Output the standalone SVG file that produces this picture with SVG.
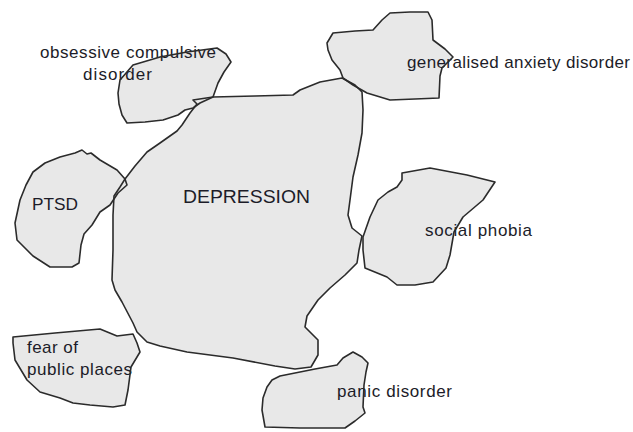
<svg xmlns="http://www.w3.org/2000/svg" xmlns:xlink="http://www.w3.org/1999/xlink" width="633" height="432" viewBox="0 0 633 432">
<style>
.fill{fill:#e8e8e8;stroke:none}
.line{fill:none;stroke:#2b2b2b;stroke-width:1.6;stroke-linejoin:round;stroke-linecap:round}
.lbl{font-family:"Liberation Sans",Arial,sans-serif;font-size:17px;fill:#1c1c28}
.big{font-size:19px}
</style>
<defs>
<path id="p-dep" d="M193,100 L213,97 L255,96 L293,95 L300,90 L320,82 L342,78 L355,85 L362,92 L363,110 L362,133 L358,155 L353,177 L350,200 L348,215 L352,228 L362,236 L359,250 L357,263 L345,275 L330,288 L318,300 L307,316 L305,327 L318,340 L318,355 L311,367 L295,369 L275,366 L233,358 L187,352 L160,346 L147,342 L137,332 L133,323 L122,302 L115,290 L112,280 L113,250 L113,215 L114,196 L120,187 L125,179 L135,166 L147,152 L160,143 L177,131 L182,125 L190,113 L197,104 Z"/>
<path id="p-ocd" d="M187,52 L217,48 L226,54 L231,62 L224,72 L218,83 L213,97 L200,103 L193,108 L185,110 L178,115 L163,120 L145,122 L127,123 L122,115 L119,104 L118,93 L120,80 L133,65 L160,57 Z"/>
<path id="p-gad" d="M390,13 L410,12 L428,12 L432,20 L433,40 L445,49 L453,57 L442,68 L440,76 L439,98 L415,99 L390,100 L367,93 L353,85 L343,78 L340,70 L332,60 L328,50 L327,43 L333,33 L355,31 L373,30 L382,20 Z"/>
<path id="p-ptsd" d="M45,163 L60,157 L75,153 L82,150 L87,154 L91,153 L100,160 L117,170 L125,179 L127,185 L118,193 L110,205 L100,212 L92,225 L84,234 L81,245 L79,263 L72,267 L50,267 L33,256 L17,240 L15,223 L20,200 L26,185 L33,172 Z"/>
<path id="p-soc" d="M402,173 L430,168 L467,175 L495,182 L483,200 L463,217 L454,232 L450,255 L446,268 L433,282 L415,285 L397,285 L387,277 L365,268 L363,250 L363,237 L370,217 L378,200 L388,192 L397,187 L402,180 Z"/>
<path id="p-pan" d="M353,352 L362,357 L368,363 L366,372 L364,385 L363,407 L365,413 L355,421 L345,428 L300,428 L265,427 L262,410 L263,398 L267,387 L272,380 L280,376 L300,372 L315,369 L337,365 L343,358 Z"/>
<path id="p-fear" d="M13,337 L55,333 L100,329 L117,336 L133,334 L137,343 L140,352 L131,367 L128,390 L125,405 L113,407 L90,405 L73,403 L60,398 L40,392 L27,380 L15,360 L13,343 Z"/>
</defs>
<g id="fills">
<use xlink:href="#p-dep" class="fill"/>
<use xlink:href="#p-ocd" class="fill"/>
<use xlink:href="#p-gad" class="fill"/>
<use xlink:href="#p-ptsd" class="fill"/>
<use xlink:href="#p-soc" class="fill"/>
<use xlink:href="#p-pan" class="fill"/>
<use xlink:href="#p-fear" class="fill"/>
</g>
<g id="depression">
<text class="lbl big" x="183" y="203" textLength="127" lengthAdjust="spacingAndGlyphs">DEPRESSION</text>
<use xlink:href="#p-dep" class="line"/>
</g>
<g id="ocd">
<text class="lbl" x="40" y="58" textLength="176" lengthAdjust="spacing">obsessive compulsive</text>
<text class="lbl" x="83" y="80" textLength="69" lengthAdjust="spacing">disorder</text>
<use xlink:href="#p-ocd" class="line"/>
</g>
<g id="gad">
<text class="lbl" x="407" y="68" textLength="223" lengthAdjust="spacing">generalised anxiety disorder</text>
<use xlink:href="#p-gad" class="line"/>
</g>
<g id="ptsd">
<text class="lbl" x="32" y="210" textLength="46" lengthAdjust="spacingAndGlyphs">PTSD</text>
<use xlink:href="#p-ptsd" class="line"/>
</g>
<g id="social-phobia">
<text class="lbl" x="425" y="236" textLength="107" lengthAdjust="spacing">social phobia</text>
<use xlink:href="#p-soc" class="line"/>
</g>
<g id="panic-disorder">
<text class="lbl" x="337" y="397" textLength="115" lengthAdjust="spacing">panic disorder</text>
<use xlink:href="#p-pan" class="line"/>
</g>
<g id="fear-of-public-places">
<text class="lbl" x="27" y="353" textLength="51" lengthAdjust="spacing">fear of</text>
<text class="lbl" x="27" y="375" textLength="105" lengthAdjust="spacing">public places</text>
<use xlink:href="#p-fear" class="line"/>
</g>
</svg>
